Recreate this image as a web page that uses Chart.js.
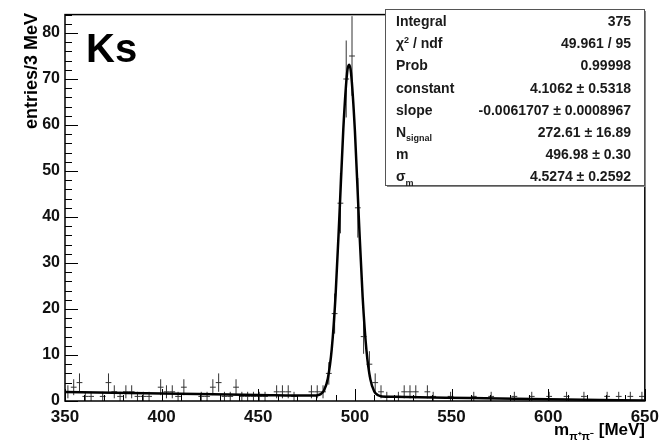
<!DOCTYPE html>
<html>
<head>
<meta charset="utf-8">
<script src="https://cdn.jsdelivr.net/npm/chart.js@4.4.0/dist/chart.umd.min.js"></script>
<style>
  html, body { margin: 0; padding: 0; background: #fff; }
  #wrap { width: 665px; height: 442px; }
</style>
</head>
<body>
<div id="wrap"><canvas id="grafico" width="665" height="442"></canvas></div>
<script>
// histograma: centros dos bins (3 MeV) e contagens
const binCenters = [
    351.5, 354.5, 357.5, 360.5, 363.5, 366.5, 369.5, 372.5, 375.5, 378.5,
    381.5, 384.5, 387.5, 390.5, 393.5, 396.5, 399.5, 402.5, 405.5, 408.5,
    411.5, 414.5, 417.5, 420.5, 423.5, 426.5, 429.5, 432.5, 435.5, 438.5,
    441.5, 444.5, 447.5, 450.5, 453.5, 456.5, 459.5, 462.5, 465.5, 468.5,
    471.5, 474.5, 477.5, 480.5, 483.5, 486.5, 489.5, 492.5, 495.5, 498.5,
    501.5, 504.5, 507.5, 510.5, 513.5, 516.5, 519.5, 522.5, 525.5, 528.5,
    531.5, 534.5, 537.5, 540.5, 543.5, 546.5, 549.5, 552.5, 555.5, 558.5,
    561.5, 564.5, 567.5, 570.5, 573.5, 576.5, 579.5, 582.5, 585.5, 588.5,
    591.5, 594.5, 597.5, 600.5, 603.5, 606.5, 609.5, 612.5, 615.5, 618.5,
    621.5, 624.5, 627.5, 630.5, 633.5, 636.5, 639.5, 642.5, 645.5, 648.5
];
const counts = [
    2, 3, 4, 1, 1, 0, 1, 4, 2, 1,
    2, 2, 1, 1, 1, 0, 3, 2, 2, 1,
    3, 0, 0, 1, 1, 3, 4, 1, 1, 3,
    1, 1, 1, 1, 1, 0, 2, 2, 2, 1,
    0, 0, 2, 2, 2, 6, 19, 43, 70, 75,
    42, 14, 8, 4, 2, 1, 0, 1, 2, 2,
    2, 0, 2, 1, 0, 0, 1, 0, 0, 0,
    1, 0, 0, 1, 0, 0, 0, 1, 0, 0,
    1, 0, 0, 1, 0, 0, 1, 0, 0, 1,
    0, 0, 0, 1, 0, 1, 0, 1, 0, 1
];

// curva do ajuste (gaussiana + fundo linear)
const fitX = [350, 400, 450, 476, 480, 482, 484, 486, 488, 490, 492, 494, 496, 497, 498, 500, 502, 504, 506, 508, 510, 512, 514, 520, 560, 600, 650];
const fitY = [1.95, 1.64, 1.33, 1.17, 1.21, 1.43, 2.3, 4.9, 11.2, 23.0, 40.4, 59.1, 71.5, 73.1, 71.3, 58.7, 40.0, 22.6, 10.9, 4.7, 2.1, 1.25, 1.0, 0.9, 0.65, 0.4, 0.1];

const xTicks = [350, 400, 450, 500, 550, 600, 650];
const yTicks = [0, 10, 20, 30, 40, 50, 60, 70, 80];

// caixa de estatisticas (segmentos: texto, sub/sup)
const statsLabels = [
    [['Integral']],
    [['χ'], ['2', 'sup'], [' / ndf']],
    [['Prob']],
    [['constant']],
    [['slope']],
    [['N'], ['signal', 'sub']],
    [['m']],
    [['σ'], ['m', 'sub']]
];
const statsValues = ['375', '49.961 / 95', '0.99998', '4.1062 ± 0.5318', '-0.0061707 ± 0.0008967', '272.61 ± 16.89', '496.98 ± 0.30', '4.5274 ± 0.2592'];

const FONTE = '"Liberation Sans", Arial, Helvetica, sans-serif';

// barras de erro como segmentos (quebrados por null)
const pontosErro = [];
counts.forEach((n, i) => {
    if (n <= 0) return;
    const c = binCenters[i];
    const e = Math.sqrt(n);
    pontosErro.push({ x: c - 1.5, y: n }, { x: c + 1.5, y: n }, { x: c, y: null });
    pontosErro.push({ x: c, y: n - e }, { x: c, y: n + e }, { x: c, y: null });
});

function larguraRica(ctx, segs, size) {
    let w = 0;
    segs.forEach(([t, tipo]) => {
        ctx.font = (tipo ? 'bold ' + Math.round(size * 0.62) : 'bold ' + size) + 'px ' + FONTE;
        w += ctx.measureText(t).width;
    });
    return w;
}

function textoRico(ctx, segs, x, y, size) {
    let cx = x;
    segs.forEach(([t, tipo]) => {
        let dy = 0;
        if (tipo === 'sub') { ctx.font = 'bold ' + Math.round(size * 0.62) + 'px ' + FONTE; dy = size * 0.3; }
        else if (tipo === 'sup') { ctx.font = 'bold ' + Math.round(size * 0.62) + 'px ' + FONTE; dy = -size * 0.4; }
        else ctx.font = 'bold ' + size + 'px ' + FONTE;
        ctx.fillText(t, cx, y + dy);
        cx += ctx.measureText(t).width;
    });
}

const moldura = {
    id: 'moldura',
    afterDraw(chart) {
        const { ctx, chartArea: a, scales: { x, y } } = chart;
        ctx.save();
        ctx.strokeStyle = '#000';
        ctx.lineWidth = 1;

        // ticks internos eixo y: maiores a cada 10, menores a cada 2
        for (let v = 0; v <= 84; v += 2) {
            const py = Math.round(y.getPixelForValue(v)) + 0.5;
            const len = v % 10 === 0 ? 13 : 7;
            ctx.beginPath();
            ctx.moveTo(a.left, py);
            ctx.lineTo(a.left + len, py);
            ctx.stroke();
        }
        // ticks internos eixo x: maiores a cada 50, menores a cada 10
        for (let v = 350; v <= 650; v += 10) {
            const px = Math.round(x.getPixelForValue(v)) + 0.5;
            const len = v % 50 === 0 ? 12 : 6;
            ctx.beginPath();
            ctx.moveTo(px, a.bottom);
            ctx.lineTo(px, a.bottom - len);
            ctx.stroke();
        }

        ctx.lineWidth = 1.5;
        ctx.strokeRect(a.left, a.top, a.right - a.left, a.bottom - a.top);

        // caixa de estatisticas
        const bx = 385, by = 9, bw = 259, bh = 176;
        ctx.fillStyle = '#888';
        ctx.fillRect(bx + 2, by + 2, bw, bh);
        ctx.fillStyle = '#fff';
        ctx.fillRect(bx, by, bw, bh);
        ctx.lineWidth = 1;
        ctx.strokeStyle = '#555';
        ctx.strokeRect(bx + 0.5, by + 0.5, bw, bh);

        ctx.fillStyle = '#1a1a1a';
        ctx.textBaseline = 'alphabetic';
        statsLabels.forEach((segs, i) => {
            const base = 26 + i * 22.2;
            ctx.textAlign = 'left';
            textoRico(ctx, segs, 396, base, 14);
            ctx.font = 'bold 14px ' + FONTE;
            ctx.textAlign = 'right';
            ctx.fillText(statsValues[i], 631, base);
        });

        // rotulo Ks
        ctx.fillStyle = '#000';
        ctx.textAlign = 'left';
        ctx.font = 'bold 40px ' + FONTE;
        ctx.fillText('Ks', 86, 62);

        // titulo eixo x
        const tituloX = [['m'], ['π⁺π⁻', 'sub'], [' [MeV]']];
        const wx = larguraRica(ctx, tituloX, 17);
        ctx.textAlign = 'left';
        textoRico(ctx, tituloX, 645 - wx, 435, 17);

        // titulo eixo y
        ctx.save();
        ctx.translate(37, 13);
        ctx.rotate(-Math.PI / 2);
        ctx.textAlign = 'right';
        ctx.font = 'bold 18px ' + FONTE;
        ctx.fillText('entries/3 MeV', 0, 0);
        ctx.restore();

        ctx.restore();
    }
};

new Chart(document.getElementById('grafico'), {
    type: 'line',
    data: {
        datasets: [
            {
                label: 'ajuste',
                data: fitX.map((v, i) => ({ x: v, y: fitY[i] })),
                borderColor: '#000',
                borderWidth: 2.5,
                pointRadius: 0,
                cubicInterpolationMode: 'monotone',
                order: 0
            },
            {
                label: 'dados',
                data: pontosErro,
                borderColor: '#333',
                borderWidth: 1,
                pointRadius: 0,
                spanGaps: false,
                order: 1
            }
        ]
    },
    options: {
        responsive: false,
        animation: false,
        devicePixelRatio: 1,
        layout: { padding: { top: 8, right: 20, left: 0, bottom: 0 } },
        plugins: { legend: { display: false }, tooltip: { enabled: false } },
        scales: {
            x: {
                type: 'linear',
                min: 350,
                max: 650,
                afterFit: s => { s.height = 41; },
                afterBuildTicks: s => { s.ticks = xTicks.map(v => ({ value: v })); },
                grid: { display: false, drawTicks: false },
                border: { display: false },
                ticks: {
                    padding: 6,
                    maxRotation: 0,
                    color: '#111',
                    font: { family: FONTE, size: 17, weight: 'bold' }
                }
            },
            y: {
                min: 0,
                max: 84,
                afterFit: s => { s.width = 65; },
                afterBuildTicks: s => { s.ticks = yTicks.map(v => ({ value: v })); },
                grid: { display: false, drawTicks: false },
                border: { display: false },
                ticks: {
                    padding: 5,
                    color: '#111',
                    font: { family: FONTE, size: 16, weight: 'bold' }
                }
            }
        }
    },
    plugins: [moldura]
});
</script>
</body>
</html>
